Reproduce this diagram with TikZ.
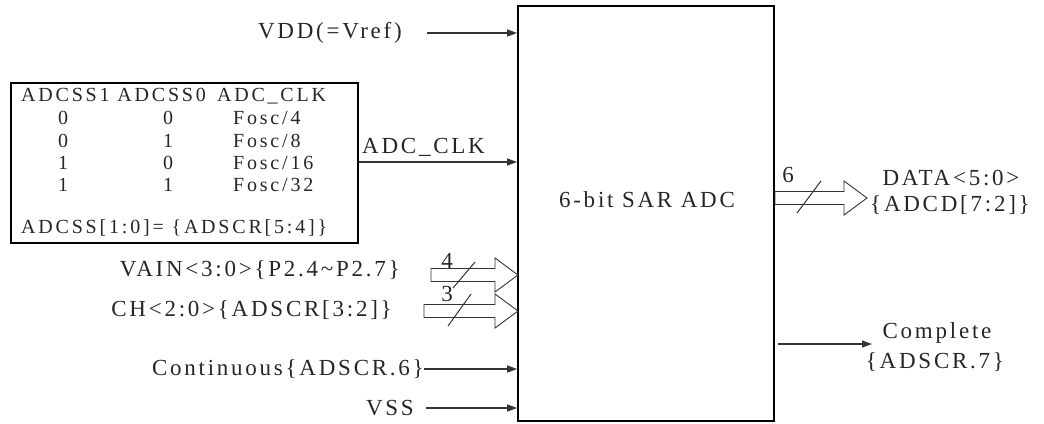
\documentclass[tikz,border=0pt]{standalone}
\usepackage{fontspec}
\setmainfont{Liberation Serif}
\newfontfamily\lblfont{Liberation Serif}[LetterSpace=12]
\newfontfamily\tblfont{Liberation Serif}[LetterSpace=14]
\usetikzlibrary{arrows.meta}
\definecolor{txt}{HTML}{262626}
\definecolor{ln}{HTML}{333333}
\newcommand\busarr[3]{%
  \draw[bus] (#1,#3-6.5) -- (#2-23,#3-6.5) -- (#2-23,#3-17) -- (#2,#3) -- (#2-23,#3+17) -- (#2-23,#3+6.5) -- (#1,#3+6.5) -- cycle;}
\begin{document}
\begin{tikzpicture}[x=1pt,y=-1pt,
  lbl/.style={inner sep=0pt, font=\lblfont\fontsize{23}{26}\selectfont, text=txt},
  tbl/.style={inner sep=0pt, font=\tblfont\fontsize{20}{23}\selectfont, text=txt},
  sig/.style={draw=ln, line width=1.1pt, -{Triangle[length=10pt,width=7pt]}},
  bus/.style={draw=ln, line width=0.9pt},
  slash/.style={draw=ln, line width=1pt}]
\useasboundingbox (0,0) rectangle (1044,423);
% main block
\node[draw=black, line width=1.8pt, minimum width=256pt, minimum height=415pt, inner sep=0pt] (adc) at (646,213.5) {};
\node[lbl] (title) at (647,200) {6-bit SAR ADC};
% table box
\node[draw=black, line width=1.5pt, minimum width=347pt, minimum height=160pt, inner sep=0pt, anchor=north west] (tab) at (10,82) {};
\node[tbl, anchor=west] (hdr) at (21,96) {ADCSS1 ADCSS0\, ADC\_CLK};
\node[tbl] (r1a) at (63,118) {0};
\node[tbl] (r1b) at (168,118) {0};
\node[tbl, anchor=west] (r1c) at (233,118) {Fosc/4};
\node[tbl] (r2a) at (63,141) {0};
\node[tbl] (r2b) at (168,141) {1};
\node[tbl, anchor=west] (r2c) at (233,141) {Fosc/8};
\node[tbl] (r3a) at (63,163) {1};
\node[tbl] (r3b) at (168,163) {0};
\node[tbl, anchor=west] (r3c) at (233,163) {Fosc/16};
\node[tbl] (r4a) at (63,185) {1};
\node[tbl] (r4b) at (168,185) {1};
\node[tbl, anchor=west] (r4c) at (233,185) {Fosc/32};
\node[tbl, anchor=west] (ftr) at (21,228) {ADCSS[1:0]= \{ADSCR[5:4]\}};
% VDD
\node[lbl, anchor=east] (vdd) at (402,33) {VDD(=Vref)};
\coordinate (vdds) at ([xshift=25pt]vdd.east);
\draw[sig] (vdds) -- (vdds -| adc.west);
% ADC_CLK
\path (0,162) coordinate (yclk);
\draw[sig] (tab.east |- yclk) -- (adc.west |- yclk);
\node[lbl, anchor=south west] (clklbl) at (362,157) {ADC\_CLK};
% VAIN / CH buses
\node[lbl, anchor=east] (vain) at (400,270) {VAIN<3:0>\{P2.4\textasciitilde P2.7\}};
\busarr{431}{518}{275}
\draw[slash] (453,288) -- (475,262);
\node[lbl] (n4) at (447,261) {4};
\node[lbl, anchor=east] (ch) at (392,310) {CH<2:0>\{ADSCR[3:2]\}};
\busarr{424}{518}{311}
\draw[slash] (448,326) -- (471,294);
\node[lbl] (n3) at (447,294) {3};
% Continuous / VSS
\node[lbl, anchor=east] (cont) at (424,369) {Continuous\{ADSCR.6\}};
\draw[sig] (cont.east) -- (cont.east -| adc.west);
\node[lbl, anchor=east] (vss) at (414,408) {VSS};
\coordinate (vsss) at ([xshift=12pt]vss.east);
\draw[sig] (vsss) -- (vsss -| adc.west);
% DATA bus
\busarr{775}{867}{198}
\draw[slash] (797,213) -- (821,181);
\node[lbl] (n6) at (788,175) {6};
\node[lbl] (data1) at (951,178) {DATA<5:0>};
\node[lbl] (data2) at (950,205) {\{ADCD[7:2]\}};
% Complete
\path (0,344) coordinate (ycmp);
\node[lbl] (cmp1) at (937,333) {Complete};
\node[lbl] (cmp2) at (935,362) {\{ADSCR.7\}};
\draw[sig] ([xshift=3pt]adc.east |- ycmp) -- (872,344);
\end{tikzpicture}
\end{document}
